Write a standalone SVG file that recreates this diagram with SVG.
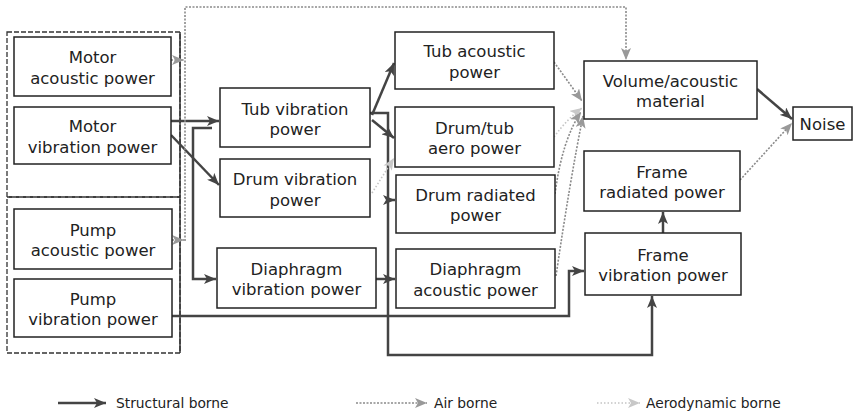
<svg xmlns="http://www.w3.org/2000/svg" width="856" height="415" viewBox="0 0 856 415">
<style>
.box{fill:#fff;stroke:#222;stroke-width:1.5}
.grp{fill:none;stroke:#333;stroke-width:1.3;stroke-dasharray:5 2}
.t{font-family:"DejaVu Sans",sans-serif;font-size:16.5px;fill:#222;text-anchor:middle}
.lg{font-family:"DejaVu Sans",sans-serif;font-size:13.8px;fill:#222}
.s{fill:none;stroke:#444;stroke-width:2.5}
.a{fill:none;stroke:#8a8a8a;stroke-width:1.6;stroke-dasharray:2 1.5}
.d{fill:none;stroke:#c4c4c4;stroke-width:1.6;stroke-dasharray:1.5 2}
</style>
<defs>
<marker id="ms" markerUnits="userSpaceOnUse" markerWidth="13" markerHeight="10" refX="12" refY="5" orient="auto"><path d="M0,0 L12,5 L0,10 L3,5 z" fill="#444"/></marker>
<marker id="ma" markerUnits="userSpaceOnUse" markerWidth="13" markerHeight="10" refX="12" refY="5" orient="auto"><path d="M0,0 L12,5 L0,10 L3,5 z" fill="#999"/></marker>
<marker id="md" markerUnits="userSpaceOnUse" markerWidth="13" markerHeight="10" refX="12" refY="5" orient="auto"><path d="M0,0 L12,5 L0,10 L3,5 z" fill="#c8c8c8"/></marker>
</defs>
<g id="groups">
<rect class="grp" x="7" y="32" width="173" height="165"/>
<rect class="grp" x="7" y="197" width="173" height="156"/>
<line x1="180" y1="32" x2="180" y2="353" stroke="#333" stroke-width="1.5"/>
</g>
<g id="connectors">
<path class="s" d="M171,121 H219" marker-end="url(#ms)"/>
<path class="s" d="M212,128 H193 V279 H216" marker-end="url(#ms)"/>
<path class="s" d="M171,135 L219,185" marker-end="url(#ms)"/>
<path class="s" d="M372,115 L394,63" marker-end="url(#ms)"/>
<path class="s" d="M372,120 L394,138" marker-end="url(#ms)"/>
<path class="s" d="M370,113 H388 V355 H652 V296" marker-end="url(#ms)"/>
<path class="s" d="M388,200 H395" marker-end="url(#ms)"/>
<path class="s" d="M376,279 H395" marker-end="url(#ms)"/>
<path class="s" d="M172,316 H569 V271 H584" marker-end="url(#ms)"/>
<path class="s" d="M663,233 V212" marker-end="url(#ms)"/>
<path class="s" d="M757,89 L792,119" marker-end="url(#ms)"/>
<path class="a" d="M171,60 H184" marker-end="url(#ma)"/>
<path class="a" d="M172,240 H184" marker-end="url(#ma)"/>
<path class="a" d="M185,241 V7 H626 V60" marker-end="url(#ma)"/>
<path class="a" d="M554,62 L582,101" marker-end="url(#ma)"/>
<path class="d" d="M554,137 Q568,118 582,108" marker-end="url(#md)"/>
<path class="a" d="M555,194 Q562,140 581,112" marker-end="url(#ma)"/>
<path class="a" d="M556,276 Q570,180 583,116" marker-end="url(#ma)"/>
<path class="a" d="M740,180 L792,123" marker-end="url(#ma)"/>
<path class="d" d="M372,193 L394,158" marker-end="url(#md)"/>
</g>
<g id="motor-acoustic"><rect class="box" x="14" y="37" width="157" height="59"/><text class="t" x="92.5" y="63">Motor</text><text class="t" x="92.5" y="83.5">acoustic power</text></g>
<g id="motor-vibration"><rect class="box" x="14" y="107" width="157" height="57"/><text class="t" x="92.5" y="132">Motor</text><text class="t" x="92.5" y="152.5">vibration power</text></g>
<g id="pump-acoustic"><rect class="box" x="14" y="209" width="158" height="60"/><text class="t" x="93" y="235.5">Pump</text><text class="t" x="93" y="256">acoustic power</text></g>
<g id="pump-vibration"><rect class="box" x="14" y="279" width="158" height="58"/><text class="t" x="93" y="304.5">Pump</text><text class="t" x="93" y="325">vibration power</text></g>
<g id="tub-vibration"><rect class="box" x="220" y="88" width="150" height="59"/><text class="t" x="295" y="114.5">Tub vibration</text><text class="t" x="295" y="135">power</text></g>
<g id="drum-vibration"><rect class="box" x="220" y="159" width="150" height="58"/><text class="t" x="295" y="185">Drum vibration</text><text class="t" x="295" y="205.5">power</text></g>
<g id="diaphragm-vibration"><rect class="box" x="217" y="248" width="159" height="60"/><text class="t" x="296.5" y="274.5">Diaphragm</text><text class="t" x="296.5" y="295">vibration power</text></g>
<g id="tub-acoustic"><rect class="box" x="395" y="32" width="159" height="57"/><text class="t" x="474.5" y="57">Tub acoustic</text><text class="t" x="474.5" y="77.5">power</text></g>
<g id="drum-tub-aero"><rect class="box" x="395" y="107" width="159" height="60"/><text class="t" x="474.5" y="133.5">Drum/tub</text><text class="t" x="474.5" y="154">aero power</text></g>
<g id="drum-radiated"><rect class="box" x="396" y="175" width="159" height="58"/><text class="t" x="475.5" y="200.5">Drum radiated</text><text class="t" x="475.5" y="221">power</text></g>
<g id="diaphragm-acoustic"><rect class="box" x="396" y="249" width="159" height="59"/><text class="t" x="475.5" y="275">Diaphragm</text><text class="t" x="475.5" y="295.5">acoustic power</text></g>
<g id="volume"><rect class="box" x="584" y="61" width="173" height="58"/><text class="t" x="670.5" y="86.5">Volume/acoustic</text><text class="t" x="670.5" y="107">material</text></g>
<g id="frame-radiated"><rect class="box" x="584" y="151" width="156" height="60"/><text class="t" x="662" y="177.5">Frame</text><text class="t" x="662" y="198">radiated power</text></g>
<g id="frame-vibration"><rect class="box" x="585" y="233" width="156" height="62"/><text class="t" x="663" y="260.5">Frame</text><text class="t" x="663" y="281">vibration power</text></g>
<g id="noise"><rect class="box" x="793" y="107" width="59" height="33"/><text class="t" x="822.5" y="130">Noise</text></g>
<g id="legend">
<path class="s" d="M58,403 H106" marker-end="url(#ms)"/>
<text class="lg" x="116" y="407.5">Structural borne</text>
<path class="a" d="M356,403 H427" marker-end="url(#ma)"/>
<text class="lg" x="434" y="407.5">Air borne</text>
<path class="d" d="M597,403 H640" marker-end="url(#md)"/>
<text class="lg" x="646" y="407.5">Aerodynamic borne</text>
</g>
</svg>
